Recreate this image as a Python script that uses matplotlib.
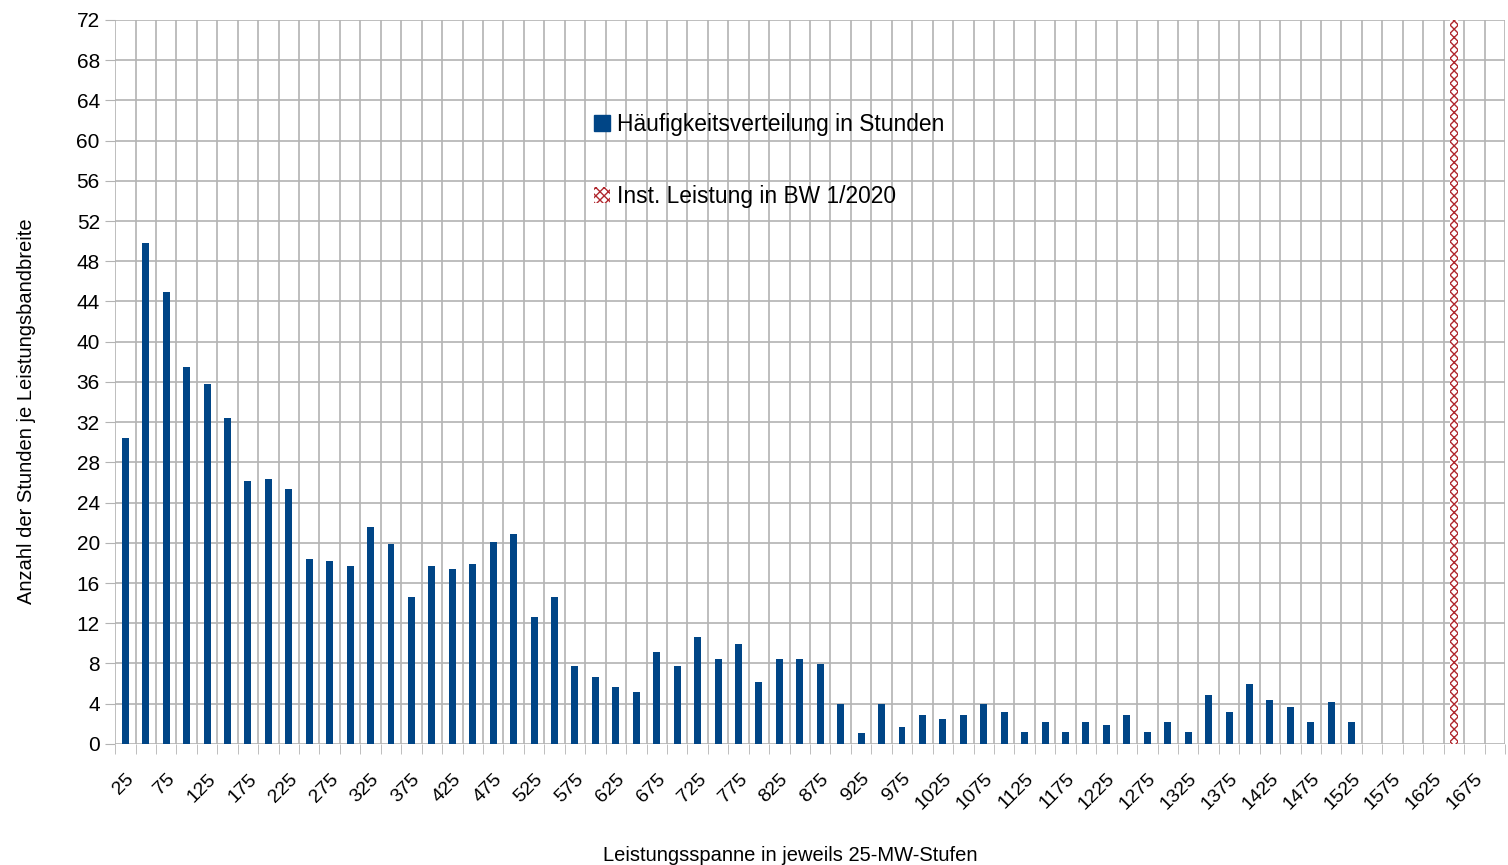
import matplotlib.pyplot as plt
from matplotlib.patches import Patch
import numpy as np

plt.rcParams['font.family'] = ['Liberation Sans', 'DejaVu Sans']
plt.rcParams['hatch.linewidth'] = 1.0

# categories: 25 MW steps from 25 to 1700
categories = list(range(25, 1725, 25))

# hours per band (blue bars, 25 .. 1525)
hours = [30.4, 49.8, 44.9, 37.5, 35.8, 32.4, 26.1, 26.3, 25.3, 18.4,
         18.2, 17.7, 21.6, 19.9, 14.6, 17.7, 17.4, 17.9, 20.1, 20.9,
         12.6, 14.6, 7.7, 6.7, 5.7, 5.2, 9.1, 7.7, 10.6, 8.4,
         9.9, 6.2, 8.4, 8.4, 7.9, 4.0, 1.1, 4.0, 1.7, 2.9,
         2.45, 2.9, 4.0, 3.2, 1.2, 2.2, 1.2, 2.2, 1.9, 2.9,
         1.2, 2.2, 1.2, 4.9, 3.2, 6.0, 4.4, 3.7, 2.2, 4.2,
         2.2]

# installed capacity marker (full height bar)
inst_category = 1650
inst_value = 72

blue = '#004586'
red = '#b0282e'

fig, ax = plt.subplots(figsize=(15.08, 8.65), dpi=100)
fig.subplots_adjust(left=0.0763, right=0.998, top=0.977, bottom=0.14)

x = np.arange(len(categories))
ax.bar(x[:len(hours)], hours, width=0.34, color=blue, zorder=3)
ax.bar(categories.index(inst_category), inst_value, width=0.42, color='white',
       edgecolor=red, hatch='xxxx', linewidth=0, zorder=3)

ax.set_xlim(-0.5, len(categories) - 0.5)
ax.set_ylim(0, 72)

# y axis
ax.set_yticks(np.arange(0, 73, 4))
ax.tick_params(axis='y', which='major', length=7, color='#b3b3b3', labelsize=15, pad=4)
ax.yaxis.grid(True, color='#b3b3b3', linewidth=1.2, zorder=0)

# x axis: labels every other category, grid lines at category borders
ax.set_xticks(x[::2])
ax.set_xticklabels([str(c) for c in categories[::2]], rotation=45,
                   ha='right', va='top', rotation_mode='anchor', fontsize=14)
ax.tick_params(axis='x', which='major', length=0, pad=19)
ax.set_xticks(np.arange(-0.5, len(categories), 1), minor=True)
ax.tick_params(axis='x', which='minor', length=7, color='#b3b3b3')
ax.xaxis.grid(True, which='minor', color='#b3b3b3', linewidth=1.2, zorder=0)
ax.set_axisbelow(True)

for s in ax.spines.values():
    s.set_visible(False)

ax.set_xlabel('Leistungsspanne in jeweils 25-MW-Stufen', fontsize=14.5)
ax.xaxis.set_label_coords(0.486, -0.141)
ax.set_ylabel('Anzahl der Stunden je Leistungsbandbreite', fontsize=14.5)
ax.yaxis.set_label_coords(-0.057, 0.46)

handles = [Patch(facecolor=blue, edgecolor=blue),
           Patch(facecolor='white', edgecolor=red, hatch='xxxx', linewidth=0)]
ax.legend(handles, ['Häufigkeitsverteilung in Stunden', 'Inst. Leistung in BW 1/2020'],
          loc='upper left', bbox_to_anchor=(0.33, 0.9), frameon=False,
          fontsize=16.4, labelspacing=2.15, handlelength=0.7, handleheight=0.7,
          handletextpad=0.3)

plt.savefig('out.png')
